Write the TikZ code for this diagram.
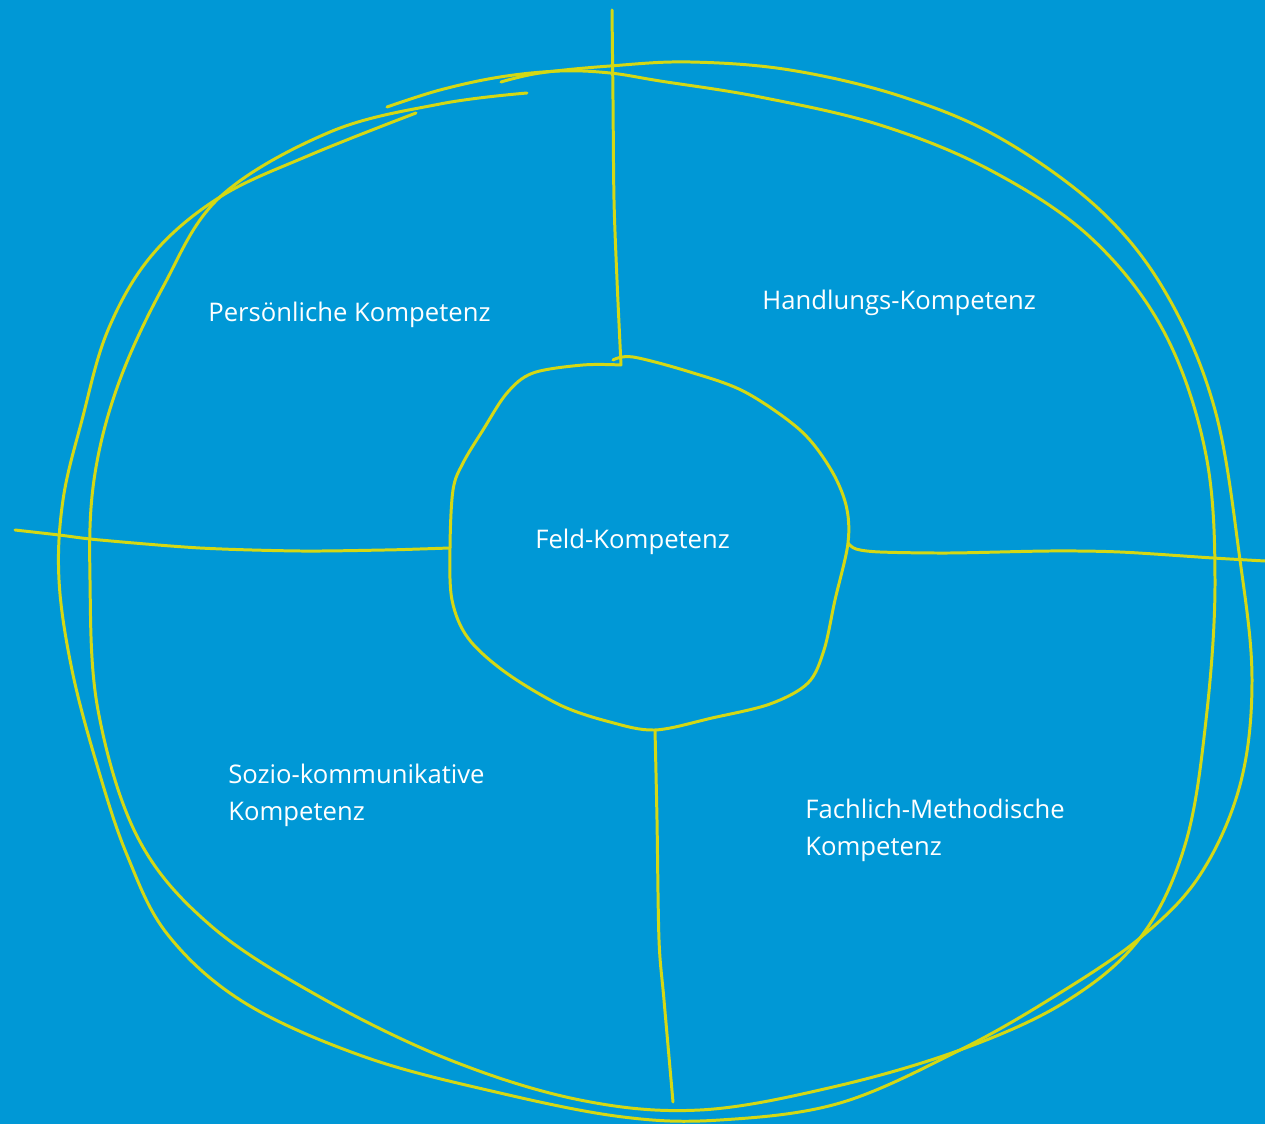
\documentclass[tikz,border=0pt]{standalone}
\usepackage{fontspec}
\setmainfont{Open Sans}
\definecolor{feldblau}{RGB}{0,152,214}
\definecolor{gelbgruen}{RGB}{212,216,20}

\begin{document}
\begin{tikzpicture}[x=0.02cm,y=-0.02cm,
        skizze/.style={draw=gelbgruen,line width=1.7pt,line cap=round,line join=round},
        kompetenz/.style={text=white,anchor=west,align=left,inner sep=0pt,
            font=\fontsize{14.6}{21}\selectfont}]
        \fill[feldblau] (0,0) rectangle (1265,1124);
        \useasboundingbox (0,0) rectangle (1265,1124);

        \coordinate (feld-n) at (621,365);
        \coordinate (feld-w) at (450,548);
        \coordinate (feld-s) at (655,730);
        \coordinate (feld-o) at (848,543);

        \draw[skizze] plot[smooth,tension=0.6] coordinates {
            (416,113) (310,155) (220,197) (152,255) (108,330) (82,420) (63,500) (59,580)
            (72,670) (97,765) (127,855) (168,935) (245,1003) (365,1057) (500,1093) (623,1117)
            (720,1120) (840,1103) (960,1050) (1055,996) (1140,938) (1200,875) (1240,785)
            (1252,680) (1240,560) (1215,410) (1167,295) (1100,210) (1000,138) (900,96)
            (790,70) (690,62) (610,66) (540,73) (501,82)};

        \draw[skizze] plot[smooth,tension=0.6] coordinates {
            (527,93) (440,104) (330,132) (220,197) (163,287) (118,385) (94,480) (90,580)
            (98,710) (138,838) (210,925) (320,997) (450,1060) (580,1100) (700,1110)
            (833,1087) (960,1050) (1065,1002) (1140,938) (1185,845) (1206,720) (1215,580)
            (1205,450) (1163,330) (1090,237) (990,170) (880,125) (760,97) (660,81)
            (610,73) (560,71) (500,77) (440,90) (387,107)};

        \draw[skizze] plot[smooth,tension=0.55] coordinates {
            (feld-n) (583,365) (533,373) (507,393) (483,430) (463,463) (453,490) (feld-w)
            (452,600) (468,638) (505,672) (560,705) (610,722) (feld-s) (712,718) (770,704)
            (808,683) (824,650) (835,600) (feld-o) (846,505) (830,468) (800,430) (745,392)
            (690,372) (633,357) (613,360)};

        \draw[skizze] plot[smooth] coordinates {(612,10) (613,100) (614,200) (617,280) (feld-n)};
        \draw[skizze] plot[smooth] coordinates {(feld-w) (420,549) (385,550) (300,551) (200,548) (100,540) (59,535) (15,530)};
        \draw[skizze] plot[smooth] coordinates {(feld-s) (657,820) (659,940) (664,1000) (673,1102)};
        \draw[skizze] plot[smooth] coordinates {(feld-o) (856,549) (880,552) (950,553) (1050,551) (1120,552) (1213,558) (1265,561)};

        \node[kompetenz] (persoenlich) at (208,315) {Persönliche Kompetenz};
        \node[kompetenz] (handlung) at (762,303) {Handlungs-Kompetenz};
        \node[kompetenz] (feld) at (535,542) {Feld-Kompetenz};
        \node[kompetenz] (sozio) at (228,795) {Sozio-kommunikative\\Kompetenz};
        \node[kompetenz] (fachlich) at (805,830) {Fachlich-Methodische\\Kompetenz};
\end{tikzpicture}
\end{document}
